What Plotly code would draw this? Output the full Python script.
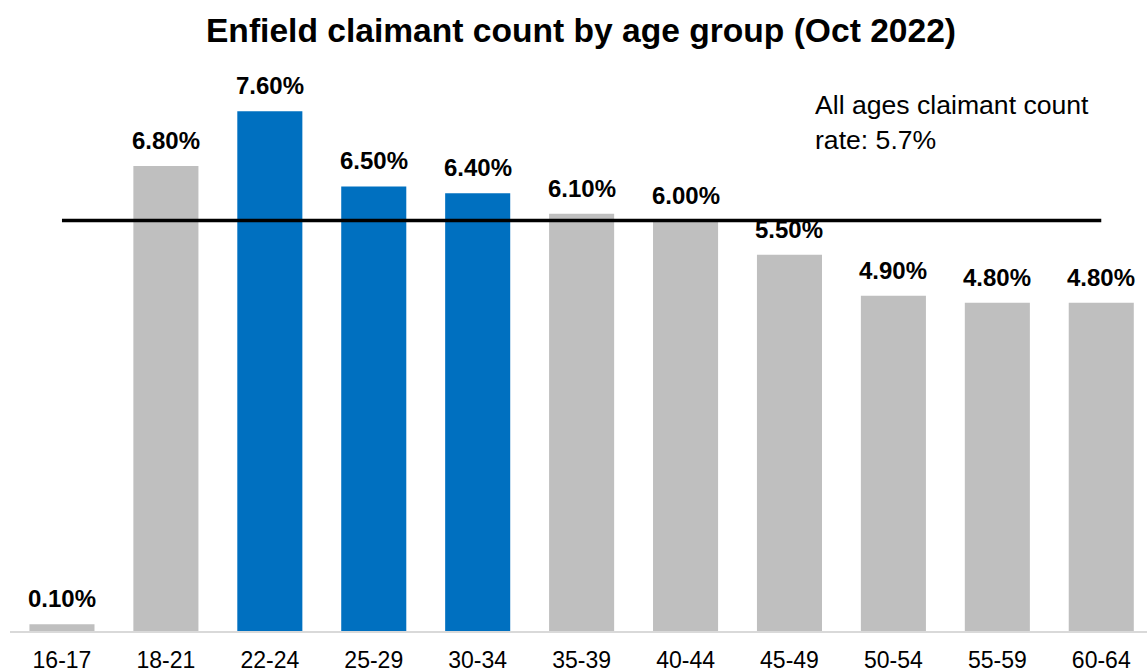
import plotly.graph_objects as go

categories = ["16-17", "18-21", "22-24", "25-29", "30-34", "35-39",
              "40-44", "45-49", "50-54", "55-59", "60-64"]
rates = [0.1, 6.8, 7.6, 6.5, 6.4, 6.1, 6.0, 5.5, 4.9, 4.8, 4.8]
highlight = [False, False, True, True, True, False, False, False, False, False, False]
all_ages_label_rate = 5.7
line_level = 6.0  # drawn position of the reference line
title_text = "Enfield claimant count by age group (Oct 2022)"

GREY = "#BFBFBF"
BLUE = "#0070C0"
FONT = "Liberation Sans, Arial, sans-serif"

colors = [BLUE if h else GREY for h in highlight]

fig = go.Figure()
fig.add_trace(go.Bar(
    x=categories, y=rates, marker=dict(color=colors, line=dict(width=0)),
    hoverinfo="skip", showlegend=False,
))
fig.add_trace(go.Scatter(
    x=[categories[0], categories[-1]], y=[line_level, line_level],
    mode="lines", line=dict(color="black", width=3.5), showlegend=False,
    hoverinfo="skip",
))

annotations = []
for c, v in zip(categories, rates):
    annotations.append(dict(
        x=c, y=v, xref="x", yref="y", text=f"<b>{v:.2f}%</b>",
        showarrow=False, yanchor="bottom", yshift=10,
        font=dict(family=FONT, size=24, color="#000000"),
    ))
annotations.append(dict(
    x=(813 - 10) / 1137, y=(631 - 88) / 571, xref="paper", yref="paper",
    xanchor="left", yanchor="top", align="left", showarrow=False,
    text=f"All ages claimant count<br>rate: {all_ages_label_rate}%",
    font=dict(family=FONT, size=26.6, color="#000000"),
))

fig.update_layout(
    width=1147, height=672,
    margin=dict(l=10, r=0, t=60, b=41, autoexpand=False),
    paper_bgcolor="white", plot_bgcolor="white",
    bargap=0.374,
    title=dict(text=f"<b>{title_text}</b>", x=581 / 1147, xanchor="center",
               y=1 - 30 / 672, yanchor="middle", xref="container", yref="container",
               font=dict(family=FONT, size=33.6, color="#000000")),
    xaxis=dict(
        range=[-0.5, 10.44], showgrid=False, showline=True, linecolor="#D9D9D9",
        linewidth=2, ticks="outside", ticklen=7, tickcolor="rgba(0,0,0,0)",
        tickfont=dict(family=FONT, size=23, color="#000000"), automargin=False,
        fixedrange=True,
    ),
    yaxis=dict(range=[0, 571 / 68.4], visible=False, showgrid=False,
               zeroline=False, fixedrange=True),
    annotations=annotations,
)

fig.write_html("out.html", config={"displayModeBar": False})
with open("out.html", "r", encoding="utf-8") as f:
    html = f.read()
html = html.replace("<body>", '<body style="margin:0;padding:0;">', 1)
with open("out.html", "w", encoding="utf-8") as f:
    f.write(html)
